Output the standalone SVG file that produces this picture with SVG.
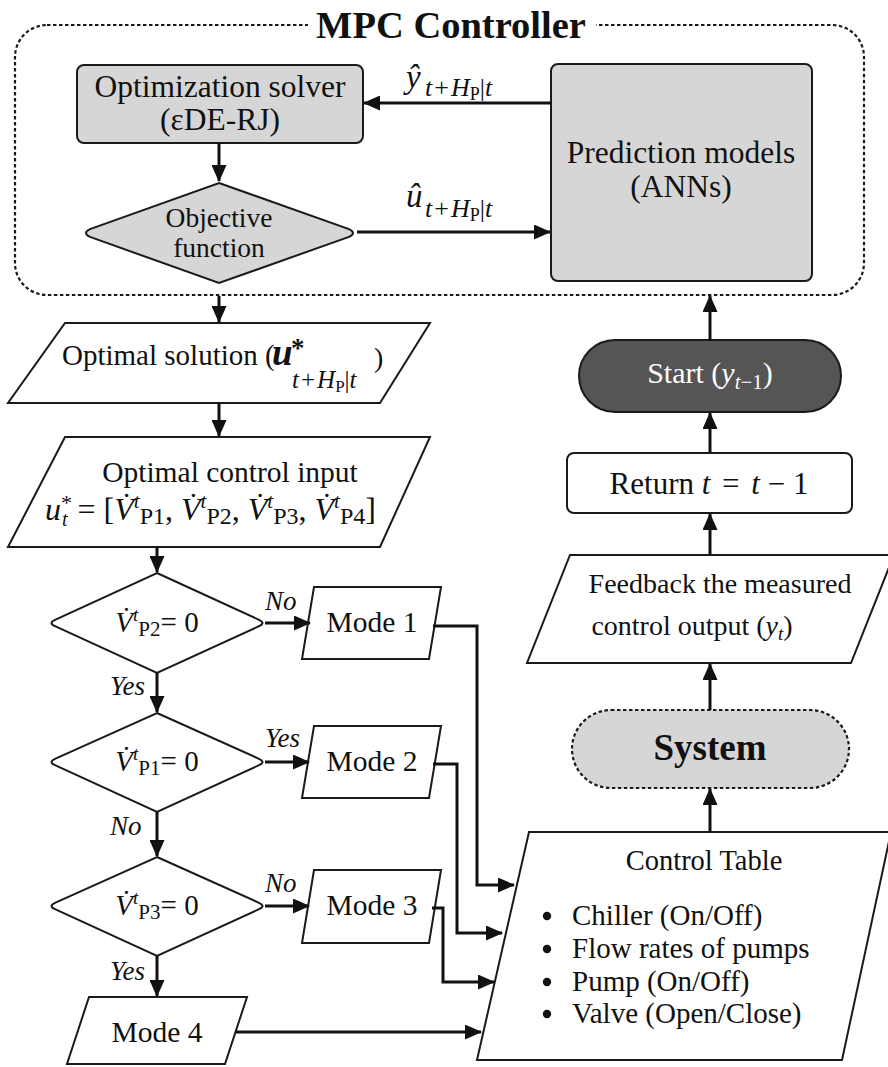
<svg xmlns="http://www.w3.org/2000/svg" width="888" height="1067" viewBox="0 0 888 1067">
  <style>
    text { font-family: "Liberation Serif", "Times New Roman", serif; fill: #111; }
    .it { font-style: italic; }
    .mid { text-anchor: middle; }
    .shape { stroke: #1a1a1a; stroke-width: 2; fill: #fff; }
    .gray { fill: #d6d6d6; }
    .dash { fill: none; stroke: #1a1a1a; stroke-width: 2.2; stroke-dasharray: 3.5 2.5; }
    .conn { fill: none; stroke: #111; stroke-width: 3; }
    .arrow { marker-end: url(#head); }
  </style>
  <defs>
    <marker id="head" markerUnits="userSpaceOnUse" markerWidth="17" markerHeight="15" refX="16" refY="7.5" orient="auto">
      <path d="M0,0 L17,7.5 L0,15 Z" fill="#111"/>
    </marker>
  </defs>

  <rect width="888" height="1067" fill="#fff"/>

  <!-- MPC controller frame -->
  <g id="mpc-controller">
    <rect class="dash" x="15" y="25" width="849" height="270" rx="32"/>
    <rect x="308" y="8" width="288" height="36" fill="#fff"/>
    <text x="451" y="38" class="mid" font-size="38.5" font-weight="bold">MPC Controller</text>
  </g>

  <g id="optimization-solver">
    <rect class="shape gray" x="77" y="65" width="286" height="78" rx="7"/>
    <text x="220" y="97" class="mid" font-size="31.5">Optimization solver</text>
    <text x="220" y="130" class="mid" font-size="31.5">(εDE-RJ)</text>
  </g>

  <g id="objective-function">
    <path class="shape gray" d="M219,183 L349,229.1 Q357,233 349,236.9 L219,283 L90,236.9 Q82,233 90,229.1 Z"/>
    <text x="219" y="227" class="mid" font-size="27.5">Objective</text>
    <text x="219" y="257" class="mid" font-size="27.5">function</text>
  </g>

  <g id="prediction-models">
    <rect class="shape gray" x="551" y="64" width="261" height="217" rx="7"/>
    <text x="681" y="163" class="mid" font-size="31.5">Prediction models</text>
    <text x="681" y="197" class="mid" font-size="31.5">(ANNs)</text>
  </g>

  <g id="optimal-solution">
    <path class="shape" d="M65,323 L430,323 L380,403 L8,403 Z"/>
    <text x="62" y="365" font-size="29">Optimal solution (<tspan x="272" font-size="37" font-style="italic" font-weight="bold">u</tspan><tspan x="291" y="357" font-size="27" font-weight="bold">*</tspan><tspan x="292" y="388" font-size="25"><tspan class="it">t</tspan><tspan dx="2">+</tspan><tspan class="it" dx="2">H</tspan><tspan font-size="17" dy="4">P</tspan><tspan dy="-4">|</tspan><tspan class="it">t</tspan></tspan><tspan x="374" y="367" font-size="28">)</tspan></text>
  </g>

  <g id="optimal-control-input">
    <path class="shape" d="M65,437 L430,437 L380,547 L8,547 Z"/>
    <text x="230" y="482" class="mid" font-size="29.5">Optimal control input</text>
    <text x="45" y="520" font-size="32"><tspan class="it">u</tspan><tspan font-size="22" dy="-10">*</tspan><tspan class="it" font-size="20" dx="-10" dy="16">t</tspan><tspan dx="2" dy="-6"> = [</tspan><tspan class="it">V̇</tspan><tspan class="it" font-size="21" dy="-12">t</tspan><tspan font-size="24" dy="16">P1</tspan><tspan dy="-4">, </tspan><tspan class="it">V̇</tspan><tspan class="it" font-size="21" dy="-12">t</tspan><tspan font-size="24" dy="16">P2</tspan><tspan dy="-4">, </tspan><tspan class="it">V̇</tspan><tspan class="it" font-size="21" dy="-12">t</tspan><tspan font-size="24" dy="16">P3</tspan><tspan dy="-4">, </tspan><tspan class="it">V̇</tspan><tspan class="it" font-size="21" dy="-12">t</tspan><tspan font-size="24" dy="16">P4</tspan><tspan dy="-4">]</tspan></text>
  </g>

  <g id="check-p2">
    <path class="shape" d="M157,573 L259,619.8 Q266,623 259,626.2 L157,673 L55,626.2 Q48,623 55,619.8 Z"/>
    <text x="157" y="632" class="mid" font-size="29"><tspan class="it">V̇</tspan><tspan class="it" font-size="19" dy="-11">t</tspan><tspan font-size="21" dy="15">P2</tspan><tspan dy="-4">= 0</tspan></text>
  </g>

  <g id="check-p1">
    <path class="shape" d="M157,713 L259,758.8 Q266,762 259,765.2 L157,812 L55,765.2 Q48,762 55,758.8 Z"/>
    <text x="157" y="771" class="mid" font-size="29"><tspan class="it">V̇</tspan><tspan class="it" font-size="19" dy="-11">t</tspan><tspan font-size="21" dy="15">P1</tspan><tspan dy="-4">= 0</tspan></text>
  </g>

  <g id="check-p3">
    <path class="shape" d="M157,857 L259,902.8 Q266,906 259,909.2 L157,956 L55,909.2 Q48,906 55,902.8 Z"/>
    <text x="157" y="915" class="mid" font-size="29"><tspan class="it">V̇</tspan><tspan class="it" font-size="19" dy="-11">t</tspan><tspan font-size="21" dy="15">P3</tspan><tspan dy="-4">= 0</tspan></text>
  </g>

  <g id="mode-1">
    <path class="shape" d="M314,587 L441,587 L429,659 L302,659 Z"/>
    <text x="372" y="632" class="mid" font-size="29.5">Mode 1</text>
  </g>
  <g id="mode-2">
    <path class="shape" d="M314,726 L441,726 L429,798 L302,798 Z"/>
    <text x="372" y="771" class="mid" font-size="29.5">Mode 2</text>
  </g>
  <g id="mode-3">
    <path class="shape" d="M314,870 L441,870 L429,943 L302,943 Z"/>
    <text x="372" y="915" class="mid" font-size="29.5">Mode 3</text>
  </g>
  <g id="mode-4">
    <path class="shape" d="M89,997 L247,997 L225,1064 L67,1064 Z"/>
    <text x="157" y="1042" class="mid" font-size="29.5">Mode 4</text>
  </g>

  <g id="control-table">
    <path class="shape" d="M529,832 L891,832 L842,1060 L477,1060 Z"/>
    <text x="704" y="870" class="mid" font-size="28.5">Control Table</text>
    <circle cx="547" cy="916" r="4.2" fill="#111"/>
    <circle cx="547" cy="949" r="4.2" fill="#111"/>
    <circle cx="547" cy="982" r="4.2" fill="#111"/>
    <circle cx="547" cy="1014" r="4.2" fill="#111"/>
    <text x="572" y="925" font-size="29">Chiller (On/Off)</text>
    <text x="572" y="958" font-size="29">Flow rates of pumps</text>
    <text x="572" y="991" font-size="29">Pump (On/Off)</text>
    <text x="572" y="1023" font-size="29">Valve (Open/Close)</text>
  </g>

  <g id="system">
    <rect class="dash" x="572" y="710" width="277" height="78" rx="39" style="fill:#d6d6d6"/>
    <text x="710" y="760" class="mid" font-size="37" font-weight="bold">System</text>
  </g>

  <g id="feedback">
    <path class="shape" d="M570,555 L894,555 L851,663 L527,663 Z"/>
    <text x="720" y="593" class="mid" font-size="28">Feedback the measured</text>
    <text x="692" y="635" class="mid" font-size="28">control output (<tspan class="it">y</tspan><tspan class="it" font-size="19" dy="5">t</tspan><tspan dy="-5">)</tspan></text>
  </g>

  <g id="return">
    <rect class="shape" x="567" y="453" width="285" height="60" rx="7"/>
    <text x="709" y="494" class="mid" font-size="31">Return <tspan class="it">t</tspan> <tspan dx="4">=</tspan> <tspan class="it" dx="4">t</tspan> − 1</text>
  </g>

  <g id="start">
    <rect x="579" y="340" width="262" height="72" rx="36" fill="#555" stroke="#1a1a1a" stroke-width="2"/>
    <text x="710" y="383" class="mid" font-size="30" style="fill:#fff">Start (<tspan class="it">y</tspan><tspan font-size="21" dy="6"><tspan class="it">t</tspan>−1</tspan><tspan dy="-6">)</tspan></text>
  </g>

  <!-- connectors -->
  <g id="connectors">
    <line class="conn arrow" x1="551" y1="103" x2="364" y2="103"/>
    <line class="conn arrow" x1="357" y1="232" x2="550" y2="232"/>
    <line class="conn arrow" x1="219" y1="143" x2="219" y2="181"/>
    <line class="conn arrow" x1="219" y1="296" x2="219" y2="322"/>
    <line class="conn arrow" x1="219" y1="403" x2="219" y2="436"/>
    <line class="conn arrow" x1="157" y1="547" x2="157" y2="572"/>
    <line class="conn arrow" x1="265" y1="623" x2="310" y2="623"/>
    <line class="conn arrow" x1="157" y1="673" x2="157" y2="712"/>
    <line class="conn arrow" x1="265" y1="762" x2="309" y2="762"/>
    <line class="conn arrow" x1="157" y1="812" x2="157" y2="856"/>
    <line class="conn arrow" x1="265" y1="906" x2="309" y2="906"/>
    <line class="conn arrow" x1="157" y1="956" x2="157" y2="996"/>
    <polyline class="conn arrow" points="433,626 477,626 477,885 514,885"/>
    <polyline class="conn arrow" points="433,764 457,764 457,933 502,933"/>
    <polyline class="conn arrow" points="432,908 443,908 443,982 494,982"/>
    <line class="conn arrow" x1="235" y1="1032" x2="481" y2="1032"/>
    <line class="conn arrow" x1="710" y1="832" x2="710" y2="789"/>
    <line class="conn arrow" x1="710" y1="710" x2="710" y2="664"/>
    <line class="conn arrow" x1="710" y1="555" x2="710" y2="514"/>
    <line class="conn arrow" x1="710" y1="453" x2="710" y2="413"/>
    <line class="conn arrow" x1="710" y1="340" x2="710" y2="296"/>

    <!-- connector labels -->
    <text x="406" y="88" font-size="33"><tspan class="it">ŷ</tspan><tspan x="425" y="96" font-size="26"><tspan class="it">t</tspan><tspan dx="2">+</tspan><tspan class="it" dx="2">H</tspan><tspan font-size="18" dy="4">P</tspan><tspan dy="-4">|</tspan><tspan class="it">t</tspan></tspan></text>
    <text x="406" y="207" font-size="33"><tspan class="it">û</tspan><tspan x="425" y="217" font-size="26"><tspan class="it">t</tspan><tspan dx="2">+</tspan><tspan class="it" dx="2">H</tspan><tspan font-size="18" dy="4">P</tspan><tspan dy="-4">|</tspan><tspan class="it">t</tspan></tspan></text>
    <text x="265" y="610" class="it" font-size="27">No</text>
    <text x="110" y="695" class="it" font-size="27">Yes</text>
    <text x="265" y="747" class="it" font-size="27">Yes</text>
    <text x="110" y="835" class="it" font-size="27">No</text>
    <text x="265" y="892" class="it" font-size="27">No</text>
    <text x="110" y="980" class="it" font-size="27">Yes</text>
  </g>
</svg>
